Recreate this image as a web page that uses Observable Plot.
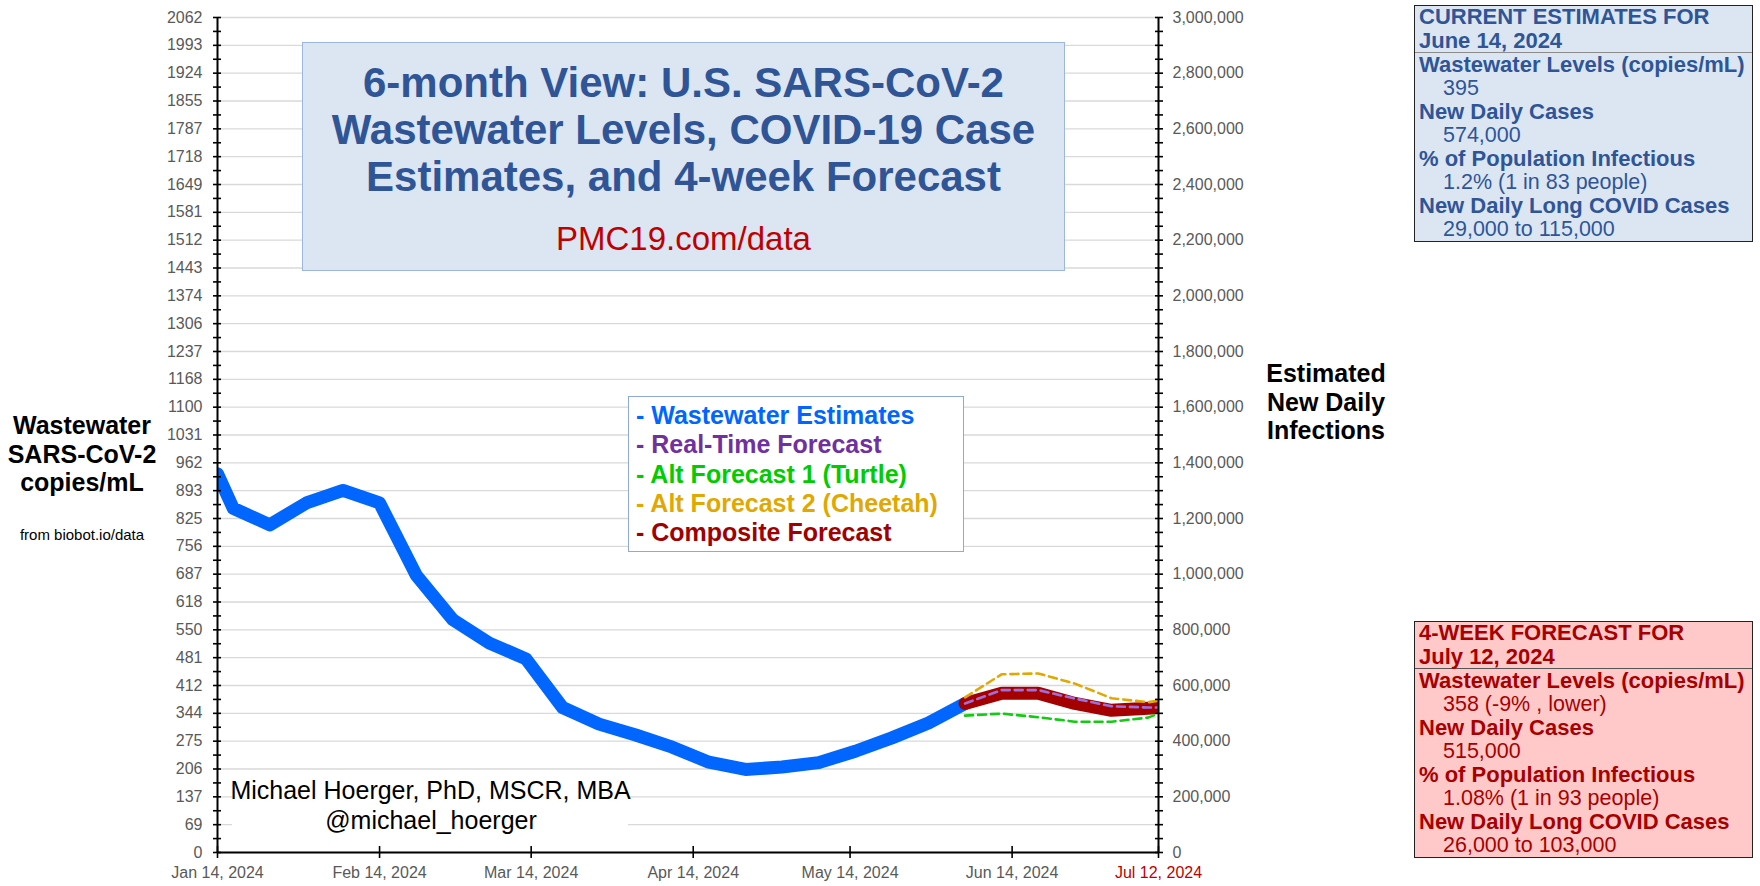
<!DOCTYPE html>
<html>
<head>
<meta charset="utf-8">
<script src="https://cdn.jsdelivr.net/npm/d3@7"></script>
<script src="https://cdn.jsdelivr.net/npm/@observablehq/plot@0.6"></script>
<style>
  body { margin: 0; background: #fff; font-family: "Liberation Sans", Arial, sans-serif; }
  #wrap { position: relative; width: 1760px; height: 886px; overflow: hidden; background: #fff; }
  #wrap > svg { position: absolute; left: 0; top: 0; }
  .ov { position: absolute; white-space: pre; }
</style>
</head>
<body>
<div id="wrap"></div>
<script>
// ---------------- DATA ----------------
const wwDates = ["2024-01-14","2024-01-17","2024-01-24","2024-01-31","2024-02-07","2024-02-14","2024-02-21","2024-02-28",
  "2024-03-06","2024-03-13","2024-03-20","2024-03-27","2024-04-03","2024-04-10","2024-04-17","2024-04-24",
  "2024-05-01","2024-05-08","2024-05-15","2024-05-22","2024-05-29","2024-06-05"];
const wwValues = [935, 850, 809, 863, 894, 863, 685, 575, 517, 478, 358, 317, 290, 260, 223, 205, 211, 222, 250, 283, 320, 368];

const fcDates = ["2024-06-05","2024-06-12","2024-06-19","2024-06-26","2024-07-03","2024-07-10","2024-07-12"];
const compositeValues = [368, 393, 393, 368, 351, 356, 358];
const realtimeValues  = [368, 401, 401, 380, 361, 358, 358];
const cheetahValues   = [383, 440, 442, 417, 381, 371, 375];
const turtleValues    = [338, 343, 334, 323, 323, 333, 343];

const leftTickLabels = ["0","69","137","206","275","344","412","481","550","618","687","756","825","893","962","1031",
  "1100","1168","1237","1306","1374","1443","1512","1581","1649","1718","1787","1855","1924","1993","2062"];
const leftMax = 2061.6;
const rightTickValues = [0,200000,400000,600000,800000,1000000,1200000,1400000,1600000,1800000,2000000,2200000,2400000,2600000,2800000,3000000];
const rightMax = 3000000;
const xTickDates = ["2024-01-14","2024-02-14","2024-03-14","2024-04-14","2024-05-14","2024-06-14"];
const xEndDate = "2024-07-12";

const titleLines = ["6-month View: U.S. SARS-CoV-2", "Wastewater Levels, COVID-19 Case", "Estimates, and 4-week Forecast"];
const titleLink = "PMC19.com/data";
const legendNames = ["- Wastewater Estimates", "- Real-Time Forecast", "- Alt Forecast 1 (Turtle)", "- Alt Forecast 2 (Cheetah)", "- Composite Forecast"];
const legendColors = ["#0066ff", "#7030a0", "#00cc00", "#e0a800", "#a00000"];
const leftTitle = ["Wastewater", "SARS-CoV-2", "copies/mL"];
const leftSource = "from biobot.io/data";
const rightTitle = ["Estimated", "New Daily", "Infections"];
const credit = ["Michael Hoerger, PhD, MSCR, MBA", "@michael_hoerger"];
const currentHeader = ["CURRENT ESTIMATES FOR", "June 14, 2024"];
const currentItems = [["Wastewater Levels (copies/mL)", "395"], ["New Daily Cases", "574,000"],
  ["% of Population Infectious", "1.2% (1 in 83 people)"], ["New Daily Long COVID Cases", "29,000 to 115,000"]];
const forecastHeader = ["4-WEEK FORECAST FOR", "July 12, 2024"];
const forecastItems = [["Wastewater Levels (copies/mL)", "358 (-9% , lower)"], ["New Daily Cases", "515,000"],
  ["% of Population Infectious", "1.08% (1 in 93 people)"], ["New Daily Long COVID Cases", "26,000 to 103,000"]];

// ---------------- BUILD ----------------
const parse = d3.utcParse("%Y-%m-%d");
const ww = wwDates.map((d, i) => ({date: parse(d), value: wwValues[i]}));
const series = (vals) => fcDates.map((d, i) => ({date: parse(d), value: vals[i]}));
const composite = series(compositeValues), realtime = series(realtimeValues),
      cheetah = series(cheetahValues), turtle = series(turtleValues);

const ratio = rightMax / leftMax;
const xDomain = [parse(xTickDates[0]), parse(xEndDate)];
const leftPos = leftTickLabels.map((_, i) => i * leftMax / (leftTickLabels.length - 1));
const leftMinor = d3.range(0, 2 * (leftTickLabels.length - 1) + 1).map(i => i * leftMax / (2 * (leftTickLabels.length - 1)));
const rightPos = rightTickValues.map(v => v / ratio);
const rightMinor = d3.range(0, rightMax + 1, 50000).map(v => v / ratio);
const xTicks = xTickDates.map(parse);
const fmtDate = d3.utcFormat("%b %-d, %Y");
const dash = "8,5";

const chart = Plot.plot({
  width: 1760, height: 886,
  marginLeft: 217, marginRight: 602, marginTop: 17, marginBottom: 34,
  style: {fontFamily: "'Liberation Sans', Arial, sans-serif", fontSize: "16px", background: "transparent", overflow: "visible"},
  x: {type: "utc", domain: xDomain, label: null},
  y: {domain: [0, leftMax], label: null},
  marks: [
    Plot.gridY(leftPos, {stroke: "#d9d9d9", strokeOpacity: 1, strokeWidth: 1.4}),
    Plot.line(ww, {x: "date", y: "value", stroke: "#0066ff", strokeWidth: 13, clip: true}),
    Plot.line(composite, {x: "date", y: "value", stroke: "#a50000", strokeWidth: 13, clip: true}),
    Plot.line(realtime, {x: "date", y: "value", stroke: "#9d6fdc", strokeWidth: 2.6, strokeDasharray: dash, clip: true}),
    Plot.line(cheetah, {x: "date", y: "value", stroke: "#e0a800", strokeWidth: 2.6, strokeDasharray: dash, clip: true}),
    Plot.line(turtle, {x: "date", y: "value", stroke: "#11cc11", strokeWidth: 2.6, strokeDasharray: dash, clip: true}),
    Plot.ruleX([xDomain[0]], {stroke: "black", strokeWidth: 2}),
    Plot.ruleX([xDomain[1]], {stroke: "black", strokeWidth: 2}),
    Plot.ruleY([0], {stroke: "black", strokeWidth: 2}),
    Plot.axisY(leftMinor, {anchor: "left", tickSize: 8, dx: 4, fill: "none", stroke: "black", strokeWidth: 1.6, label: null}),
    Plot.axisY(leftPos, {anchor: "left", tickSize: 0, tickPadding: 15, label: null,
      tickFormat: d => leftTickLabels[leftPos.indexOf(d)], fill: "#595959", fontSize: 16}),
    Plot.axisY(rightMinor, {anchor: "right", tickSize: 8, dx: -4, fill: "none", stroke: "black", strokeWidth: 1.6, label: null}),
    Plot.axisY(rightPos, {anchor: "right", tickSize: 0, tickPadding: 14, label: null,
      tickFormat: d => d3.format(",")(rightTickValues[rightPos.indexOf(d)]), fill: "#595959", fontSize: 16}),
    Plot.axisX(xTicks.concat([xDomain[1]]), {anchor: "bottom", tickSize: 12, dy: -6, fill: "none", stroke: "black", strokeWidth: 1.6, label: null}),
    Plot.axisX(xTicks, {anchor: "bottom", tickSize: 0, tickPadding: 14, label: null, tickFormat: fmtDate, fill: "#595959", fontSize: 16}),
    Plot.axisX([xDomain[1]], {anchor: "bottom", tickSize: 0, tickPadding: 14, label: null, tickFormat: fmtDate, fill: "#c00000", fontSize: 16})
  ]
});

const wrap = document.getElementById("wrap");
wrap.appendChild(chart);

// ---------------- ANNOTATIONS (HTML) ----------------
function box(x, y, w, h, style) {
  const d = document.createElement("div");
  d.className = "ov";
  Object.assign(d.style, {left: x + "px", top: y + "px", width: w + "px", height: h + "px", boxSizing: "border-box"}, style);
  wrap.appendChild(d);
  return d;
}
function txt(text, x, y, style, align = "center") {
  const d = document.createElement("div");
  d.className = "ov";
  d.textContent = text;
  const tr = align === "center" ? "translate(-50%,-50%)" : align === "right" ? "translate(-100%,-50%)" : "translate(0,-50%)";
  Object.assign(d.style, {left: x + "px", top: y + "px", lineHeight: "1", transform: tr}, style);
  wrap.appendChild(d);
  return d;
}

// Title box
box(302, 42, 763, 229, {background: "#dce6f2", border: "1.5px solid #9cb6dc"});
titleLines.forEach((t, i) => txt(t, 683.5, 83 + i * 47, {fontSize: "42px", fontWeight: "bold", color: "#2f5597"}));
txt(titleLink, 683.5, 238, {fontSize: "33px", color: "#c00000"});

// Legend box
box(628, 396, 336, 156, {background: "#fff", border: "1.5px solid #8eaadb"});
legendNames.forEach((t, i) => txt(t, 636, 415 + i * 29.3, {fontSize: "25px", fontWeight: "bold", color: legendColors[i]}, "left"));

// Credit with white background
box(232, 772, 396, 66, {background: "#fff"});
txt(credit[0], 430.5, 790, {fontSize: "25px", color: "#000"});
txt(credit[1], 431, 820, {fontSize: "25px", color: "#000"});

// Axis titles
leftTitle.forEach((t, i) => txt(t, 82, 425 + i * 28.5, {fontSize: "25px", fontWeight: "bold", color: "#000"}));
txt(leftSource, 82, 534, {fontSize: "15px", color: "#000"});
rightTitle.forEach((t, i) => txt(t, 1326, 373 + i * 28.5, {fontSize: "25px", fontWeight: "bold", color: "#000"}));

// Info boxes
function infoBox(top, bg, color, divider, header, items) {
  box(1414, top, 339, 237, {background: bg, border: "1.5px solid #222"});
  box(1415, top + 46.5, 337, 1.5, {background: divider});
  header.forEach((t, i) => txt(t, 1419, top + 12 + i * 23.8, {fontSize: "22px", fontWeight: "bold", color}, "left"));
  items.forEach(([h, v], i) => {
    txt(h, 1419, top + 60 + i * 47, {fontSize: "22px", fontWeight: "bold", color}, "left");
    txt(v, 1443, top + 83.5 + i * 47, {fontSize: "21.5px", color}, "left");
  });
}
infoBox(5, "#dce6f2", "#2f5597", "#8c8c8c", currentHeader, currentItems);
infoBox(621, "#ffc9c9", "#a80000", "#555", forecastHeader, forecastItems);
</script>
</body>
</html>
